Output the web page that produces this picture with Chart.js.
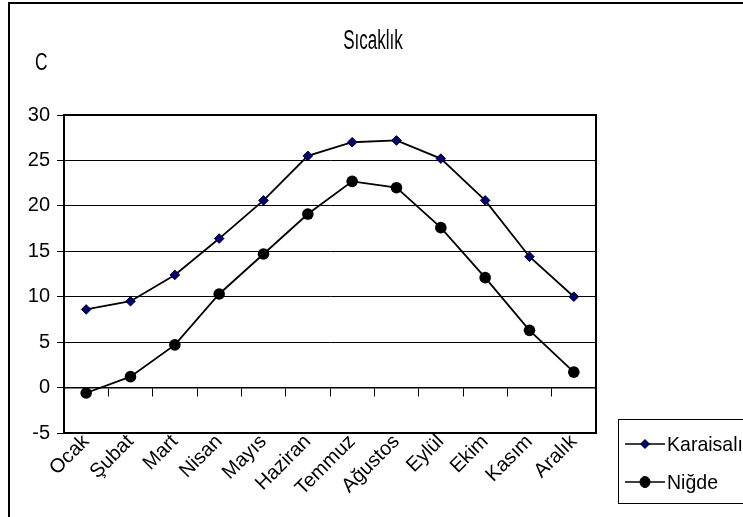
<!DOCTYPE html>
<html><head><meta charset="utf-8">
<script src="https://cdn.jsdelivr.net/npm/chart.js@4/dist/chart.umd.min.js"></script>
<style>html,body{margin:0;padding:0;background:#fff;overflow:hidden}#wrap{width:743px;height:517px;position:relative}</style>
</head><body><div id="wrap"><canvas id="c" width="743" height="517"></canvas></div>
<script>
const categories = ['Ocak','Şubat','Mart','Nisan','Mayıs','Haziran','Temmuz','Ağustos','Eylül','Ekim','Kasım','Aralık'];
const karaisali = [8.6,9.5,12.4,16.4,20.6,25.5,27.0,27.2,25.2,20.6,14.4,10.0];
const nigde = [-0.6,1.2,4.7,10.3,14.7,19.1,22.7,22.0,17.6,12.1,6.3,1.7];
const seriesNames = ['Karaisalı','Niğde'];
const chartTitle = 'Sıcaklık';
const yAxisTitle = 'C';
const yMin = -5, yMax = 30, yStep = 5;

const FONT = "'Liberation Sans', Arial, sans-serif";

function condensedText(ctx, text, x, y, size, sx, align) {
  ctx.save();
  ctx.font = size + "px " + FONT;
  ctx.textBaseline = 'middle';
  ctx.textAlign = align;
  ctx.translate(x, y);
  ctx.scale(sx, 1);
  ctx.fillText(text, 0, 0);
  ctx.restore();
}

const decor = {
  id: 'decor',
  beforeDatasetsDraw(chart) {
    const ctx = chart.ctx, a = chart.chartArea;
    ctx.save();
    ctx.strokeStyle = '#000';
    ctx.lineWidth = 2;
    ctx.strokeRect(a.left, a.top, a.right - a.left, a.bottom - a.top);
    ctx.restore();
  },
  afterDraw(chart) {
    const ctx = chart.ctx;
    ctx.save();
    ctx.strokeStyle = '#000';
    ctx.lineWidth = 2;
    ctx.strokeRect(9, 3, 900, 700);
    ctx.fillStyle = '#000';
    condensedText(ctx, chartTitle, 373, 42, 27, 0.63, 'center');
    condensedText(ctx, yAxisTitle, 35, 63, 24, 0.72, 'left');
    ctx.lineWidth = 1;
    ctx.strokeRect(618.5, 419.5, 300, 84);
    const rows = [444, 482];
    chart.data.datasets.forEach((ds, i) => {
      const y = rows[i];
      ctx.strokeStyle = '#000';
      ctx.lineWidth = 1.6;
      ctx.beginPath(); ctx.moveTo(625, y); ctx.lineTo(665, y); ctx.stroke();
      ctx.fillStyle = ds.pointBackgroundColor;
      ctx.lineWidth = 1;
      ctx.beginPath();
      if (ds.pointStyle === 'rectRot') {
        const r = 4.5;
        ctx.moveTo(645, y - r); ctx.lineTo(645 + r, y); ctx.lineTo(645, y + r); ctx.lineTo(645 - r, y); ctx.closePath();
      } else {
        ctx.ellipse(645, y, 5, 5.5, 0, 0, Math.PI * 2);
      }
      ctx.fill(); ctx.stroke();
      ctx.fillStyle = '#000';
      condensedText(ctx, ds.label, 667, y + 1, 21, 0.93, 'left');
    });
    ctx.restore();
  }
};

new Chart(document.getElementById('c'), {
  type: 'line',
  data: {
    labels: categories,
    datasets: [
      { label: seriesNames[0], data: karaisali, borderColor: '#000', borderWidth: 1.8,
        pointStyle: 'rectRot', pointRadius: 4.8, pointBackgroundColor: '#000080', pointBorderColor: '#000', pointBorderWidth: 1,
        tension: 0, fill: false, xAxisID: 'x' },
      { label: seriesNames[1], data: nigde, borderColor: '#000', borderWidth: 1.8,
        pointStyle: 'circle', pointRadius: 5.8, pointBackgroundColor: '#000', pointBorderColor: '#000', pointBorderWidth: 0,
        tension: 0, fill: false, xAxisID: 'x' }
    ]
  },
  options: {
    responsive: false, animation: false, devicePixelRatio: 1,
    layout: { padding: { left: 0, top: 115, right: 147, bottom: 0 } },
    plugins: { legend: { display: false }, title: { display: false }, tooltip: { enabled: false } },
    scales: {
      x: {
        type: 'category', position: { y: 0 }, offset: true,
        grid: { offset: true, drawOnChartArea: false, drawTicks: true, tickLength: 8, color: '#000', lineWidth: 1 },
        border: { display: true, color: '#000', width: 1.5 },
        ticks: { display: false }
      },
      x2: {
        type: 'category', position: 'bottom', offset: true,
        grid: { display: false, drawTicks: false }, border: { display: false },
        ticks: { autoSkip: false, minRotation: 45, maxRotation: 45, padding: -3, color: '#000', font: { family: FONT, size: 20 } },
        afterFit(s) { s.height = 84; }
      },
      y: {
        min: yMin, max: yMax,
        ticks: { stepSize: yStep, padding: 7, color: '#000', font: { family: FONT, size: 20 } },
        grid: { color: '#000', lineWidth: 1, tickLength: 7, drawTicks: true },
        border: { display: true, color: '#000', width: 2 },
        afterFit(s) { s.width = 64; }
      }
    }
  },
  plugins: [decor]
});
</script></body></html>
